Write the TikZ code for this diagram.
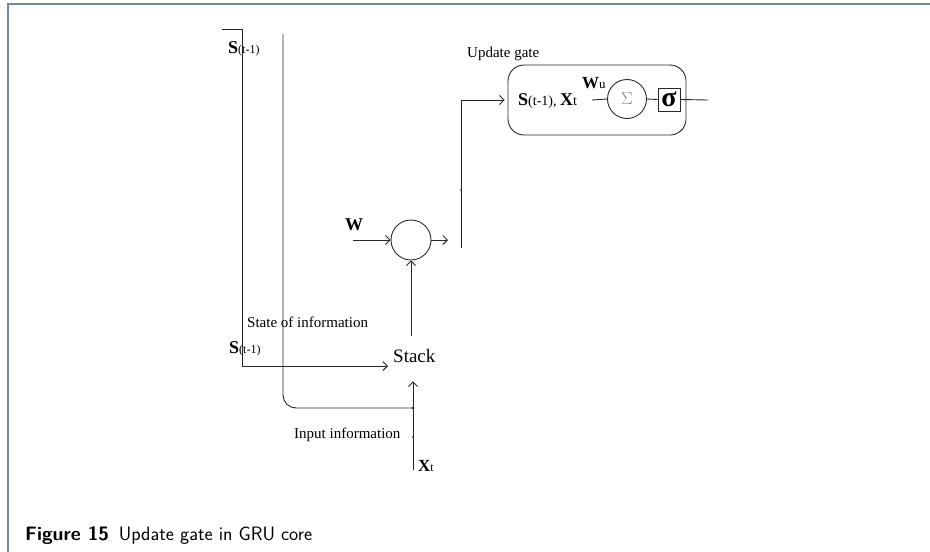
\documentclass[tikz,border=0pt]{standalone}
\usepackage{fontspec}
\setmainfont{Liberation Serif}
\usepackage{tikz}
\usetikzlibrary{arrows.meta,positioning}
\definecolor{framegray}{RGB}{112,138,165}
\definecolor{wiregray}{RGB}{40,40,40}
\definecolor{sumgray}{RGB}{130,130,130}
\newcommand{\bvar}[4]{{\fontsize{#1}{#1}\selectfont\bfseries #2}{\fontsize{#4}{#4}\selectfont #3}}

\begin{document}
\begin{tikzpicture}[x=1pt, y=-1pt,
    wire/.style={draw=wiregray, line width=0.9pt},
    arrow/.style={wire, -{Straight Barb[length=4.5pt, width=9pt]}},
    neuron/.style={circle, draw=wiregray, line width=0.9pt, minimum size=40pt, inner sep=0pt},
    gatebox/.style={rectangle, draw=wiregray, line width=0.9pt, rounded corners=16pt, minimum width=178pt, minimum height=70pt},
    actbox/.style={rectangle, draw=wiregray, line width=1pt, minimum width=22pt, minimum height=23pt, inner sep=0pt},
    lbl/.style={inner sep=0pt, anchor=base west, font=\fontsize{15}{15}\selectfont}
]
\useasboundingbox (0,0) rectangle (930,552);
% Frame
\draw[framegray, line width=1.5pt] (8,552) -- (8,4) -- (930,4);

% Nodes
\node[gatebox] (gate) at (597,100) {};
\node[neuron] (sum) at (411,240) {};
\node[neuron, minimum size=39pt] (gsum) at (627,99) {\textcolor{sumgray}{\fontsize{19}{19}\selectfont$\Sigma$}};
\node[actbox] (act) at (669,99.5) {\fontsize{28}{28}\selectfont\bfseries σ};
\node[lbl, font=\fontsize{19}{19}\selectfont] (stack) at (393,362) {Stack};

% Coordinates
\coordinate (stop) at (222,29);
\coordinate (itop) at (283,34);
\coordinate (ijoin) at (413,408);
\coordinate (xin) at (413,470);
\coordinate (win) at (353,240);
\coordinate (sout) at (448,240);
\coordinate (vbot) at (461,248);
\coordinate (gin) at (592,100);
\coordinate (gout) at (708,100);

% Arrows
\draw[arrow] (stop) -- (242,29) |- ([xshift=-5pt, yshift=-4pt]stack.base west);
\draw[wire, rounded corners=13pt] (itop) |- (ijoin);
\fill[wiregray] (ijoin) circle (1.4pt);
\draw[arrow, shorten >=19pt] (xin) -- (xin |- stack.south);
\draw[arrow, shorten <=13pt] (sum |- stack.north) -- (sum.south);
\draw[arrow] (win) -- (sum.west);
\draw[arrow] (sum.east) -- (sout);
\draw[arrow] (vbot) |- ([xshift=-3pt]gate.west);
\draw[wire] (gin) -- (gsum.west);
\draw[wire] (gsum.east) -- (act.west);
\draw[wire] (act.east) -- (gout);
\fill[wiregray] (461,190) circle (1pt);
\fill[wiregray] (413,437) circle (1pt);

% Labels
\node[lbl] (stopl) at (228,53) {\bvar{18}{S}{(t-1)}{12}};
\node[lbl] (sbotl) at (229,353) {\bvar{18}{S}{(t-1)}{12}};
\node[lbl] (statel) at (247,327) {State of information};
\node[lbl] (inputl) at (294,438) {Input information};
\node[lbl] (xl) at (418,471) {\bvar{17}{X}{t}{12}};
\node[lbl] (wl) at (345,230) {\fontsize{18}{18}\selectfont\bfseries W};
\node[lbl] (gatel) at (467,57) {Update gate};
\node[lbl] (gatein) at (518,105) {\bvar{18}{S}{(t-1), }{14}\bvar{18}{X}{t}{14}};
\node[lbl] (wul) at (582,88) {\bvar{17}{W}{u}{13}};
\node[lbl, font=\sffamily\fontsize{19.4}{19.4}\selectfont] (caption) at (25,540) {\textbf{Figure 15}\enspace Update gate in GRU core};
\end{tikzpicture}
\end{document}
